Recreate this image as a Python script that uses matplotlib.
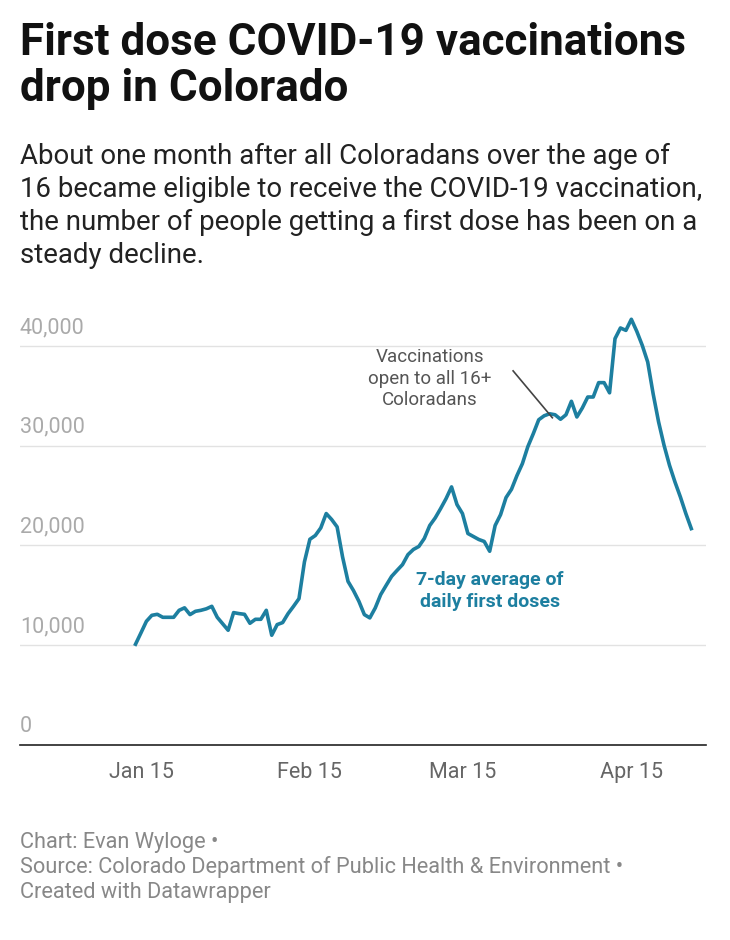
import matplotlib
matplotlib.use("Agg")
import matplotlib.pyplot as plt
import pandas as pd
import matplotlib.transforms as mtransforms

start_date = "2021-01-14"
doses = [10100, 11240, 12400, 13000, 13100, 12800, 12800, 12800, 13500, 13750,
         13070, 13400, 13500, 13650, 13900, 12800, 12150, 11500, 13270, 13170,
         13100, 12200, 12600, 12600, 13500, 11000, 12070, 12270, 13170, 13900,
         14670, 18350, 20620, 21000, 21760, 23200, 22600, 21860, 18850, 16400,
         15480, 14400, 13070, 12740, 13740, 15080, 16000, 16900, 17500, 18080,
         19080, 19600, 19900, 20700, 22000, 22760, 23700, 24700, 25870, 24100,
         23200, 21200, 20900, 20600, 20400, 19420, 22000, 23090, 24800, 25630,
         27000, 28200, 29900, 31200, 32600, 33000, 33200, 33100, 32650, 33100,
         34450, 32880, 33780, 34880, 34880, 36320, 36320, 35300, 40730, 41800,
         41560, 42670, 41460, 40060, 38390, 35200, 32380, 30040, 28040, 26370,
         24860, 23200, 21690]
dates = pd.date_range(start_date, periods=len(doses), freq="D")
y_ticks = [0, 10000, 20000, 30000, 40000]
y_labels = ["0", "10,000", "20,000", "30,000", "40,000"]
x_ticks = pd.to_datetime(["2021-01-15", "2021-02-15", "2021-03-15", "2021-04-15"])
x_labels = ["Jan 15", "Feb 15", "Mar 15", "Apr 15"]

plt.rcParams["font.family"] = "Roboto"
fig = plt.figure(figsize=(7.3, 9.4), dpi=100)
ax = fig.add_axes([20/730, 195/940, 686/730, 429/940])
line_c = "#1d7fa0"
ax.plot(dates, doses, color=line_c, lw=2.6, solid_joinstyle="round", zorder=3)
ax.set_ylim(0, 43000)
ax.set_xlim(pd.Timestamp("2021-01-15") - pd.Timedelta(days=22.2),
            pd.Timestamp("2021-01-15") + pd.Timedelta(days=103.7))
for s in ["top", "right", "left"]:
    ax.spines[s].set_visible(False)
ax.spines["bottom"].set_color("#222222")
ax.spines["bottom"].set_linewidth(1.2)
ax.set_yticks(y_ticks[1:])
ax.yaxis.grid(True, color="#e2e2e2", lw=1)
ax.tick_params(axis="y", length=0, labelleft=False)
ax.set_xticks(x_ticks)
ax.set_xticklabels(x_labels, fontsize=15.5, color="#666666")
ax.tick_params(axis="x", length=0, pad=12)
tr = mtransforms.blended_transform_factory(ax.transAxes, ax.transData)
for v, lab in zip(y_ticks, y_labels):
    ax.text(0, v + 800, lab, transform=tr, fontsize=15.5, color="#aaaaaa", va="bottom", ha="left")

ax.text(pd.Timestamp("2021-03-09"), 36700, "Vaccinations\nopen to all 16+\nColoradans",
        fontsize=13.5, color="#555555", ha="center", va="center", linespacing=1.25)
ax.plot([pd.Timestamp("2021-03-24") + pd.Timedelta(days=0.3), pd.Timestamp("2021-03-31") + pd.Timedelta(days=0.5)],
        [37500, 32800], color="#444444", lw=1.2, zorder=4)
ax.text(pd.Timestamp("2021-03-20"), 15450, "7-day average of\ndaily first doses",
        fontsize=14, color=line_c, fontweight="bold", ha="center", va="center", linespacing=1.25)

fig.text(20/730, 1 - 22/940, "First dose COVID-19 vaccinations\ndrop in Colorado",
         fontsize=31.7, fontweight="bold", va="top", ha="left", color="#111111", linespacing=1.12)
fig.text(20/730, 1 - 143/940,
         "About one month after all Coloradans over the age of\n16 became eligible to receive the COVID-19 vaccination,\nthe number of people getting a first dose has been on a\nsteady decline.",
         fontsize=19.9, va="top", ha="left", color="#222222", linespacing=1.28)
fig.text(20/730, 1 - 832/940,
         "Chart: Evan Wyloge \u2022\nSource: Colorado Department of Public Health & Environment \u2022\nCreated with Datawrapper",
         fontsize=15.7, va="top", ha="left", color="#888888", linespacing=1.2)
fig.savefig("out.png", dpi=100, facecolor="white")
